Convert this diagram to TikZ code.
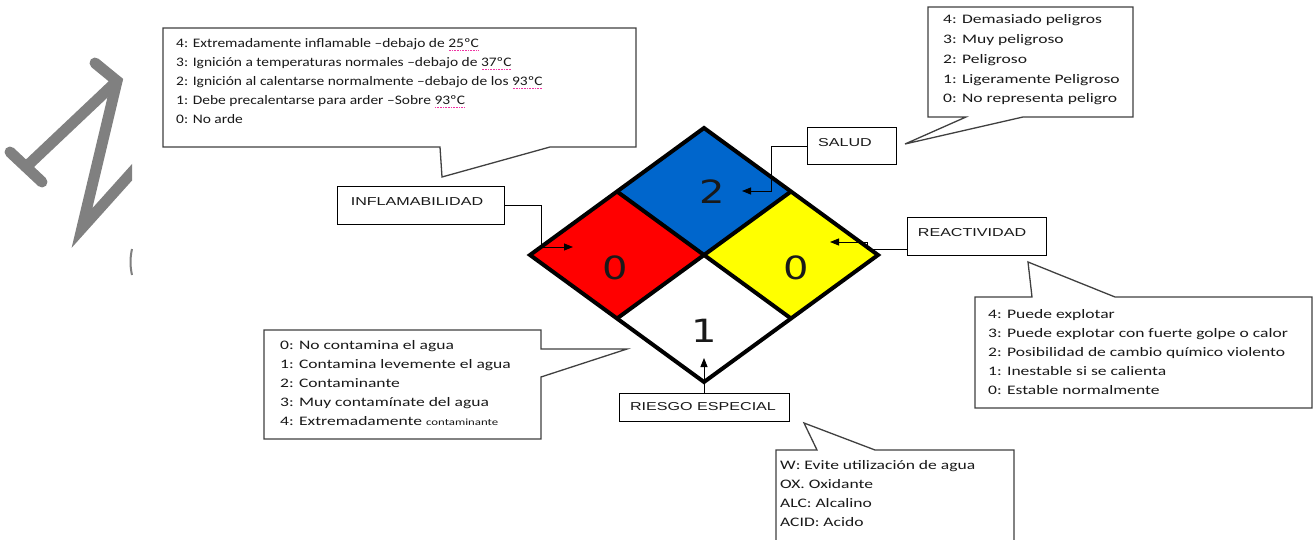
\documentclass[tikz,border=0pt]{standalone}
\usepackage{fontspec}
\setmainfont[FakeStretch=1.35]{Carlito}
\newfontfamily\narrowfont[FakeStretch=1.19]{Carlito}
\newfontfamily\lblfont[FakeStretch=1.4]{Liberation Sans}
\newfontfamily\digfont[FakeStretch=1.25]{DejaVu Sans}
\usetikzlibrary{arrows.meta,calc}

% dotted spell-check mark under a word
\newsavebox\sqbox
\newcommand\spellmark[1]{\sbox\sqbox{#1}\rlap{\color{magenta!80}\raisebox{-2.4pt}{\hbox to \wd\sqbox{\xleaders\hbox to 1.6pt{\hss\rule{0.7pt}{0.7pt}\hss}\hfill}}}\usebox\sqbox}

\definecolor{nfpablue}{RGB}{0,102,204}
\definecolor{nfpared}{RGB}{255,0,0}
\definecolor{nfpayellow}{RGB}{255,255,0}
\definecolor{strokegray}{RGB}{128,128,128}

\tikzset{
  callout/.style={draw=black!75, line width=1.3pt, fill=white, line join=miter},
  lblbox/.style={draw=black, line width=1pt, fill=white, inner sep=0pt},
  lbltxt/.style={font=\lblfont\fontsize{11.5}{13}\selectfont, inner sep=0pt, text=black!90},
  item/.style={font=\fontsize{13}{15}\selectfont, anchor=base west, inner sep=0pt, text=black!90},
  narrowitem/.style={item, font=\narrowfont\fontsize{13}{15}\selectfont},
  ptr/.style={draw=black, line width=0.9pt, -{Triangle[length=9pt,width=7pt]}},
  digit/.style={font=\digfont\fontsize{32}{32}\selectfont, inner sep=0pt, text=black!90},
  quadline/.style={line width=4pt, line join=miter, line cap=butt},
  graystroke/.style={draw=strokegray, line width=11pt, line cap=round, line join=miter}
}

\begin{document}
\begin{tikzpicture}[x=1pt,y=-1pt]
\useasboundingbox[fill=white] (0,0) rectangle (1314,540);

% grey stroke figure at the left margin
\begin{scope}
  \clip (0,0) rectangle (132,540);
  \draw[graystroke] (95,63) -- (117,81) -- (82,228) -- (152,150);
  \draw[graystroke] (117,81) -- (26,167);
  \draw[graystroke] (10,152) -- (42,182);
\end{scope}
\draw[strokegray, line width=2pt] (132,249) .. controls (130,258) and (130,266) .. (132,275);

% callout boxes
\draw[callout] (163,28) -- (636,28) -- (636,147) -- (550,147) -- (442,177) -- (440,147) -- (163,147) -- cycle;
\draw[callout] (928,7) -- (1133,7) -- (1133,117) -- (1023,117) -- (905,144) -- (966,117) -- (928,117) -- cycle;
\draw[callout] (975,297) -- (1032,297) -- (1028,262) -- (1115,297) -- (1312,297) -- (1312,408) -- (975,408) -- cycle;
\draw[callout] (264,330) -- (541,330) -- (541,349) -- (627,349) -- (541,377) -- (541,439) -- (264,439) -- cycle;
\draw[callout] (776,450) -- (817,450) -- (804,423) -- (875,450) -- (1014,450) -- (1014,548) -- (776,548) -- cycle;

% flammability scale
\foreach \s [count=\i] in {
  {4: Extremadamente inflamable –debajo de \spellmark{25ºC}},
  {3: Ignición a temperaturas normales –debajo de \spellmark{37ºC}},
  {2: Ignición al calentarse normalmente –debajo de los \spellmark{93ºC}},
  {1: Debe precalentarse para arder –Sobre \spellmark{93ºC}},
  {0: No arde}}
  \node[narrowitem] (fl\i) at (176,{48+19*(\i-1)}) {\s};

% health scale
\foreach \s [count=\i] in {
  {4: Demasiado peligros},
  {3: Muy peligroso},
  {2: Peligroso},
  {1: Ligeramente Peligroso},
  {0: No representa peligro}}
  \node[item] (he\i) at (943,{24+19.7*(\i-1)}) {\s};

% reactivity scale
\foreach \s [count=\i] in {
  {4: Puede explotar},
  {3: Puede explotar con fuerte golpe o calor},
  {2: Posibilidad de cambio químico violento},
  {1: Inestable si se calienta},
  {0: Estable normalmente}}
  \node[item] (re\i) at (988,{318+19*(\i-1)}) {\s};

% water hazard scale
\foreach \s [count=\i] in {
  {0: No contamina el agua},
  {1: Contamina levemente el agua},
  {2: Contaminante},
  {3: Muy contamínate del agua},
  {4: Extremadamente {\fontsize{9.5}{11}\selectfont contaminante}}}
  \node[item] (wa\i) at (280,{349+19*(\i-1)}) {\s};

% special hazard codes
\foreach \s [count=\i] in {
  {W: Evite utilización de agua},
  {OX. Oxidante},
  {ALC: Alcalino},
  {ACID: Acido}}
  \node[item] (sp\i) at (780,{469+19*(\i-1)}) {\s};

% hazard diamond
\coordinate (dT) at (704,128);
\coordinate (dB) at (704,382);
\coordinate (dL) at (530,255);
\coordinate (dR) at (878,255);
\coordinate (dC) at (704,255);
\coordinate (dTL) at (617,191.5);
\coordinate (dTR) at (791,191.5);
\coordinate (dBL) at (617,318.5);
\coordinate (dBR) at (791,318.5);
\fill[nfpablue] (dT) -- (dTR) -- (dC) -- (dTL) -- cycle;
\fill[nfpared] (dTL) -- (dC) -- (dBL) -- (dL) -- cycle;
\fill[nfpayellow] (dTR) -- (dR) -- (dBR) -- (dC) -- cycle;
\fill[white] (dC) -- (dBR) -- (dB) -- (dBL) -- cycle;
\draw[quadline] (dTL) -- (dBR);
\draw[quadline] (dTR) -- (dBL);
\draw[quadline] (dT) -- (dR) -- (dB) -- (dL) -- cycle;

\node[digit] (n-health) at (712,192) {2};
\node[digit] (n-flam) at (615,268) {0};
\node[digit] (n-react) at (796,268) {0};
\node[digit] (n-special) at (704,331) {1};

% category labels
\node[lblbox, minimum width=89pt, minimum height=37pt] (salud) at (851.5,146.5) {};
\node[lbltxt] (salud-t) at (845,143) {SALUD};
\node[lblbox, minimum width=167pt, minimum height=37pt] (infl) at (420.5,205.5) {};
\node[lbltxt] (infl-t) at (417,202) {INFLAMABILIDAD};
\node[lblbox, minimum width=139pt, minimum height=38pt] (react) at (976.5,236.5) {};
\node[lbltxt] (react-t) at (972,233) {REACTIVIDAD};
\node[lblbox, minimum width=170pt, minimum height=28pt] (riesgo) at (704,407) {};
\node[lbltxt] (riesgo-t) at (703,407) {RIESGO ESPECIAL};

% pointers into the diamond
\coordinate (p-salud) at (742,191);
\coordinate (p-infl) at (573,247);
\coordinate (p-react) at (830,242);
\coordinate (p-riesgo) at (704,358);
\draw[ptr] (salud.west) -- ++(-35,0) |- (p-salud);
\draw[ptr] (infl.east) -- ++(37,0) |- (p-infl);
\draw[ptr] ($(react.south west)+(0,-7)$) -- ++(-39,0) |- (p-react);
\draw[ptr] (riesgo.north) -- (p-riesgo);
\end{tikzpicture}
\end{document}
